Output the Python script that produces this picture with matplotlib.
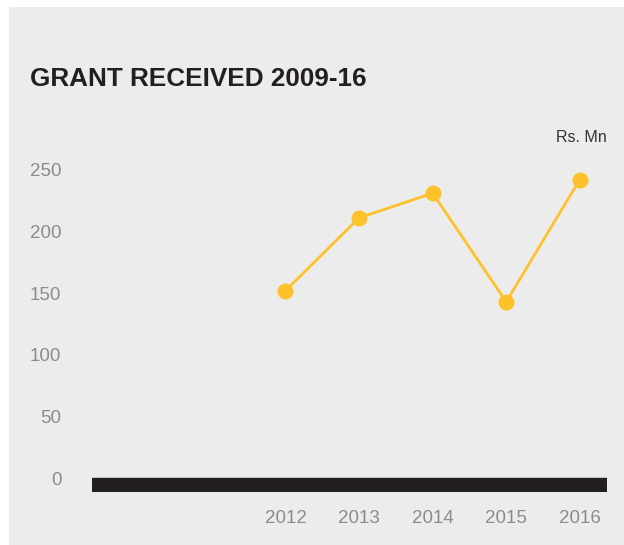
import matplotlib.pyplot as plt
from matplotlib.patches import Rectangle

plt.rcParams['font.family'] = ['Liberation Sans', 'DejaVu Sans']

# Grant received, Rs. Mn
years = [2012, 2013, 2014, 2015, 2016]
grant = [152, 211, 231, 143, 242]
y_ticks = [0, 50, 100, 150, 200, 250]

W, H = 624, 545
fig = plt.figure(figsize=(W / 100, H / 100), dpi=100, facecolor='white')

# grey panel behind everything
fig.patches.append(Rectangle((9 / W, 0), 1 - 9 / W, (H - 7) / H,
                             transform=fig.transFigure, facecolor='#ececec',
                             edgecolor='none', zorder=-10))

left, right = 92 / W, 607 / W
bottom, top = (H - 492) / H, (H - 130) / H
ax = fig.add_axes([left, bottom, right - left, top - bottom])
ax.set_facecolor('none')

ax.set_xlim(2009.37, 2016.37)
ax.set_ylim(-11.1, 282.2)

# thick black base bar under the zero line
ax.axhspan(-11.1, 0, color='#231f20', zorder=1)

ax.plot(years, grant, color='#fdc22a', lw=2, marker='o', ms=10.5,
        zorder=3, clip_on=False)

ax.set_xticks(years)
ax.set_xticklabels([str(y) for y in years])
ax.set_yticks(y_ticks)
ax.tick_params(axis='both', length=0, labelsize=13.5, labelcolor='#8c8c8c')
ax.tick_params(axis='y', pad=22)
ax.tick_params(axis='x', pad=13)
for s in ax.spines.values():
    s.set_visible(False)

fig.text(30 / W, (H - 85.5) / H, 'GRANT RECEIVED 2009-16', fontsize=18.8,
         fontweight='bold', color='#231f20', va='baseline', ha='left')
fig.text(607 / W, (H - 137.5) / H, 'Rs. Mn', fontsize=11.5, color='#333333',
         ha='right', va='center')

fig.savefig('out.png', dpi=100, facecolor='white')
